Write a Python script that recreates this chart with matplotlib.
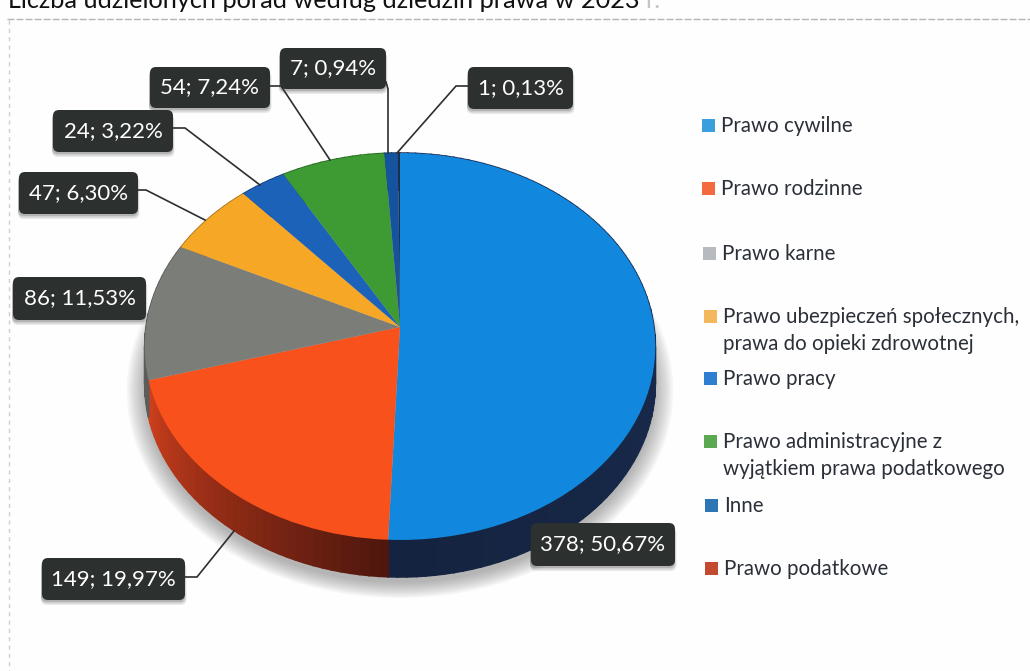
import numpy as np
import matplotlib
matplotlib.use('Agg')
import matplotlib.pyplot as plt
from matplotlib.patches import FancyBboxPatch, Rectangle
from matplotlib.transforms import Transform

plt.rcParams['font.family'] = ['Lato', 'DejaVu Sans']

# data
categories = ['Prawo cywilne', 'Prawo rodzinne', 'Prawo karne',
              'Prawo ubezpieczeń społecznych,\nprawa do opieki zdrowotnej', 'Prawo pracy',
              'Prawo administracyjne z\nwyjątkiem prawa podatkowego', 'Inne', 'Prawo podatkowe']
counts = [378, 149, 86, 47, 24, 54, 7, 1]
labels = ['378; 50,67%', '149; 19,97%', '86; 11,53%', '47; 6,30%', '24; 3,22%', '54; 7,24%', '7; 0,94%', '1; 0,13%']

# colours
face_colors = ['#1188de', '#f9511b', '#7b7d78', '#f6a725', '#1b62b8', '#3e9b33', '#15539f', '#14304f']
legend_colors = ['#3a9fdc', '#f26a3d', '#b7babf', '#f5b75b', '#2f7fd0', '#5aa84f', '#2e75b6', '#c14a2f']
wall_start = ['#1d3059', '#4f170e', '#5c5c5a', '#a8701a', '#123f78', '#26661f', '#0e3668', '#6d1c0e']
wall_end = ['#14233f', '#d0401d', '#5c5c5a', '#a8701a', '#123f78', '#26661f', '#0e3668', '#6d1c0e']

# layout in pixels
boxes = [(531, 523, 675, 566), (42, 558, 185, 600), (13, 277, 146, 320), (19, 172, 138, 214),
         (53, 110, 173, 152), (150, 67, 270, 108), (280, 48, 386, 89), (468, 67, 573, 109)]
leaders = [None,
           [(185, 577), (197, 577), (234, 531)],
           None,
           [(138, 190), (146, 190), (205, 220)],
           [(173, 128), (185, 128), (260, 185)],
           [(270, 86), (281, 86), (330, 160)],
           [(386, 82), (388, 89), (388, 153)],
           [(468, 86), (456, 86), (397, 153)]]
legend_x = [702, 702, 703, 704, 704, 704, 705, 705]
legend_y = [126, 189, 254, 317, 379, 442, 506, 569]
line_y2 = {3: 344, 5: 469}

CX, CY = 400, 327
A, B, K = 254, 191.5, 0.1008
DEPTH = 37


class Tilt(Transform):
    # perspective view of the unit circle, gives the egg shape of the 3d pie
    input_dims = 2
    output_dims = 2

    def __init__(self, shift=0, scale=1.0):
        super().__init__()
        self.shift = shift
        self.scale = scale

    def transform_non_affine(self, xy):
        xy = np.asarray(xy)
        w = 1 + K * xy[:, 1]
        px = CX + self.scale * A * xy[:, 0] / w
        py = CY + self.shift - self.scale * B * xy[:, 1] / w
        return np.column_stack([px, py])


def mix(c1, c2, t):
    return tuple(np.array(matplotlib.colors.to_rgb(c1)) * (1 - t) + np.array(matplotlib.colors.to_rgb(c2)) * t)


fig = plt.figure(figsize=(10.3, 6.71), dpi=100, facecolor='#fefefe')
ax = fig.add_axes([0, 0, 1, 1])

# pie (unit circle, mapped to pixels by Tilt)
wedges, _ = ax.pie(counts, colors=face_colors, startangle=90, counterclock=False, radius=1,
                   wedgeprops={'linewidth': 0})
ax.set_aspect('auto')
ax.set_xlim(0, 1030)
ax.set_ylim(671, 0)
ax.axis('off')
for w in wedges:
    w.set_transform(Tilt() + ax.transData)
    w.set_zorder(5)

# frame of the scanned page
ax.plot([7, 1030], [19, 19], color='#b4b4b4', lw=1, dashes=(5, 1.5), zorder=1)
ax.plot([9, 9], [20, 671], color='#cfcfcf', lw=1, dashes=(3, 3), zorder=1)

# soft shadow under the pie
t = np.linspace(0, 2 * np.pi, 240)
circle = np.column_stack([np.sin(t), np.cos(t)])
for s in np.linspace(1.07, 1.0, 10):
    outline = Tilt(shift=DEPTH + 6, scale=s).transform(circle)
    ax.fill(outline[:, 0], outline[:, 1], color='#555555', alpha=0.05, lw=0, zorder=2)

# side wall, slice after slice
top = Tilt()
low = Tilt(shift=DEPTH)
edges = np.cumsum([0] + counts) / sum(counts) * 2 * np.pi
for i in range(len(counts)):
    n = max(2, int((edges[i + 1] - edges[i]) * 30))
    a = np.linspace(edges[i], edges[i + 1], n + 1)
    for j in range(n):
        seg = np.column_stack([np.sin(a[j:j + 2]), np.cos(a[j:j + 2])])
        p1 = top.transform(seg)
        p2 = low.transform(seg)[::-1]
        poly = np.vstack([p1, p2])
        ax.fill(poly[:, 0], poly[:, 1], color=mix(wall_start[i], wall_end[i], j / n), lw=1.2, zorder=3)

# leader lines
for pts in leaders:
    if pts is None:
        continue
    xs, ys = zip(*pts)
    ax.plot(xs, ys, color='#2b2f2f', lw=1.2, zorder=6, solid_joinstyle='miter')

# data labels
for lab, (x0, y0, x1, y1) in zip(labels, boxes):
    for d, al in ((5, 0.10), (3.5, 0.14), (2, 0.18)):
        ax.add_patch(FancyBboxPatch((x0 - 1, y0 + d), x1 - x0 + d / 2, y1 - y0,
                                    boxstyle='round,pad=0,rounding_size=6', fc='#333333', ec='none',
                                    alpha=al, zorder=7))
    ax.add_patch(FancyBboxPatch((x0, y0), x1 - x0, y1 - y0, boxstyle='round,pad=0,rounding_size=6',
                                fc='#2c302e', ec='none', zorder=8))
    ax.text((x0 + x1) / 2, (y0 + y1) / 2, lab, color='white', fontsize=16, ha='center', va='center', zorder=9)

# legend
for i, name in enumerate(categories):
    ax.add_patch(Rectangle((legend_x[i], legend_y[i] - 7), 13, 13, fc=legend_colors[i], ec='none', zorder=4))
    parts = name.split('\n')
    ax.text(legend_x[i] + 19, legend_y[i], parts[0], color='#2a2f38', fontsize=14.8, va='center', ha='left')
    if len(parts) > 1:
        ax.text(legend_x[i] + 19, line_y2[i], parts[1], color='#2a2f38', fontsize=14.8, va='center', ha='left')

# title, cut by the top edge of the scan
ax.text(8, 8, 'Liczba udzielonych porad według dziedzin prawa w 2023', color='#111111', fontsize=18.2,
        va='baseline', ha='left')
ax.text(645, 8, 'r.', color='#c4c4c4', fontsize=18.2, va='baseline', ha='left')

fig.savefig('out.png', dpi=100, facecolor=fig.get_facecolor())
